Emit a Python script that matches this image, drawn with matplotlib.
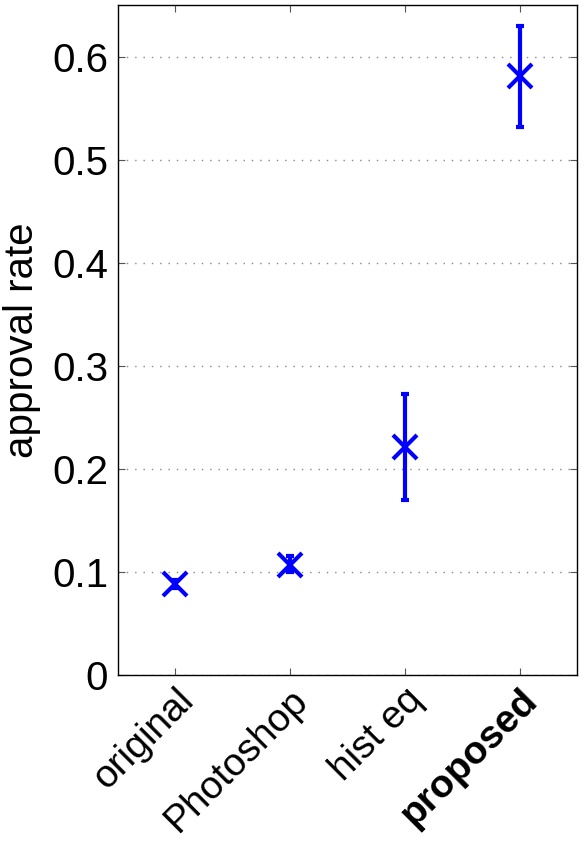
import matplotlib.pyplot as plt
import numpy as np

plt.rcParams['font.family'] = ['Liberation Sans', 'DejaVu Sans']

methods = ['original', 'Photoshop', 'hist eq', 'proposed']
rate = [0.088, 0.107, 0.221, 0.581]
err_low = [0.004, 0.007, 0.051, 0.049]
err_high = [0.004, 0.008, 0.052, 0.049]

x = np.arange(1, len(methods) + 1)

fig = plt.figure(figsize=(5.86, 8.44), dpi=100)
ax = fig.add_axes([0.2014, 0.2002, 0.7832, 0.7939])

ax.errorbar(x, rate, yerr=[err_low, err_high], fmt='x', color='#0000ff',
            markersize=17, markeredgewidth=3, elinewidth=3, capsize=3,
            capthick=3, zorder=3)

ax.set_xlim(0.5, 4.5)
ax.set_ylim(0, 0.65)
ax.set_yticks(np.arange(0, 0.61, 0.1))
ax.set_yticklabels(['0', '0.1', '0.2', '0.3', '0.4', '0.5', '0.6'])
ax.set_xticks(x)
labels = ax.set_xticklabels(methods, rotation=45, ha='right',
                            rotation_mode='anchor', fontsize=28)
labels[-1].set_fontweight('bold')

ax.tick_params(axis='both', direction='in', length=5, width=0.8,
               top=True, right=True, color='#555555')
ax.tick_params(axis='y', pad=7, labelsize=29)
ax.tick_params(axis='x', pad=5)
ax.grid(axis='y', linestyle=(0, (1, 5)), color='#888888', linewidth=1)
ax.set_axisbelow(True)
for s in ax.spines.values():
    s.set_linewidth(1)
ax.set_ylabel('approval rate', fontsize=29, labelpad=8)

fig.savefig('out.png', dpi=100)
